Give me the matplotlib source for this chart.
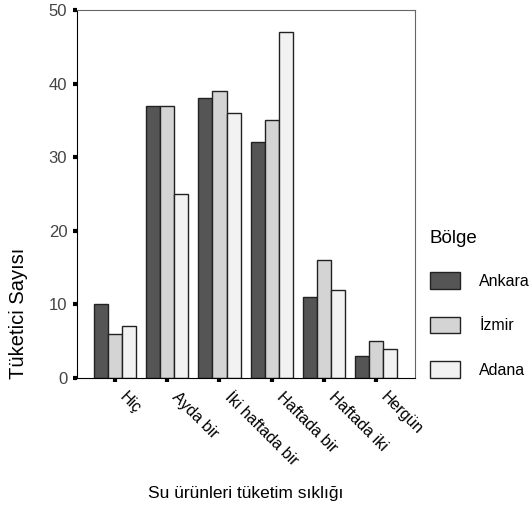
import matplotlib.pyplot as plt
import numpy as np
from matplotlib.patches import Patch

categories = ["Hiç", "Ayda bir", "İki haftada bir", "Haftada bir", "Haftada iki", "Hergün"]
regions = ["Ankara", "İzmir", "Adana"]
ankara = [10, 37, 38, 32, 11, 3]
izmir = [6, 37, 39, 35, 16, 5]
adana = [7, 25, 36, 47, 12, 4]
colors = ["#555555", "#d4d4d4", "#f2f2f2"]

plt.rcParams['font.family'] = ['Liberation Sans', 'DejaVu Sans']

fig = plt.figure(figsize=(5.31, 5.14), dpi=100)
ax = fig.add_axes([0.145, 0.2646, 0.637, 0.716])

x = np.arange(len(categories))
w = 0.27
for i, (vals, c) in enumerate(zip([ankara, izmir, adana], colors)):
    ax.bar(x + (i - 1) * w, vals, w, color=c, edgecolor="#222222", linewidth=1)

ax.set_xlim(-0.73, 5.75)
ax.set_ylim(0, 50)
ax.set_yticks([0, 10, 20, 30, 40, 50])
ax.set_xticks(x)
ax.set_xticklabels([])
# rotated category labels, shifted right of the ticks like the original
for xi, cat in zip(x, categories):
    ax.annotate(cat, xy=(xi, 0), xycoords=("data", "axes fraction"),
                xytext=(9, -8), textcoords="offset points", rotation=-45,
                ha="left", va="top", rotation_mode="anchor", fontsize=11.5,
                annotation_clip=False)
ax.tick_params(axis="both", direction="out", length=3, width=3, color="black")
ax.tick_params(axis="y", labelsize=12, labelcolor="#444444", pad=4)
for s in ["top", "right"]:
    ax.spines[s].set_color("#666666")
ax.spines["left"].set_color("black")
ax.spines["bottom"].set_color("black")

fig.text(0.034, 0.39, "Tüketici Sayısı", rotation=90, ha="center", va="center",
         fontsize=14.5)
fig.text(0.462, 0.032, "Su ürünleri tüketim sıklığı", ha="center", fontsize=12.5)

handles = [Patch(facecolor=c, edgecolor="#222222") for c in colors]
leg = fig.legend(handles, regions, title="Bölge", loc="upper left",
                 bbox_to_anchor=(0.782, 0.58), frameon=False, fontsize=11.5,
                 title_fontsize=13.5, handlelength=1.9, handleheight=1.2,
                 labelspacing=1.75, handletextpad=1.2)
leg._legend_box.align = "left"
leg._legend_box.sep = 18

fig.savefig("out.png", dpi=100)
